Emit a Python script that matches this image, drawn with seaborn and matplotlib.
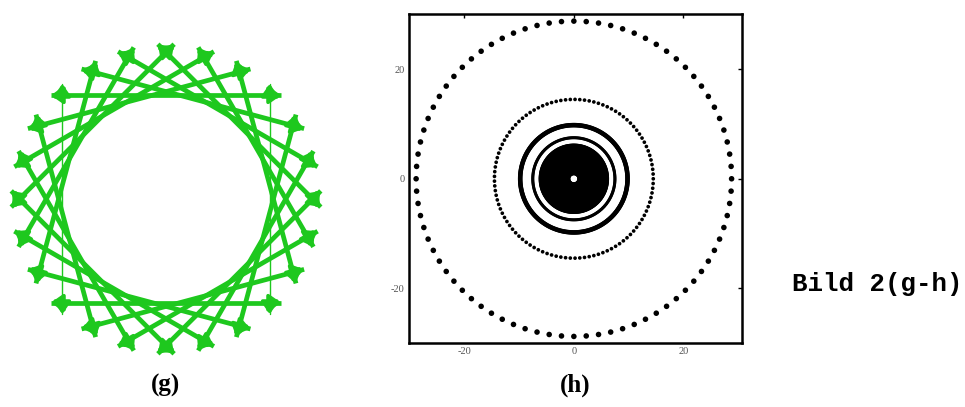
import numpy as np
import pandas as pd
import matplotlib
matplotlib.use("Agg")
import matplotlib.pyplot as plt
import seaborn as sns

sns.set_theme(style="white")
plt.rcParams["font.family"] = ["Liberation Serif", "DejaVu Serif"]

# ---- panel (g): star polygon of double-headed chords ----
chord_centers_deg = [0, 15, 30, 45, 60, 75, 90, 105, 120, 135, 150, 165,
                     180, 195, 210, 225, 240, 255, 270, 285, 300, 315, 330, 345]
chord_span_deg = 96.0
chord_radius = 155.0
thin_chords_deg = [0, 180]
green = "#1ec81e"

# ---- panel (h): concentric rings of points ----
ring_radii = [28.8, 14.5, 9.8, 7.5,
              6.1, 5.7, 5.3, 4.9, 4.5, 4.1, 3.7, 3.3, 2.9, 2.5, 2.1, 1.7, 1.3, 0.95]
ring_counts = [80, 105, 320, 260,
               260, 240, 90, 220, 200, 180, 170, 150, 130, 110, 100, 80, 60, 45]
ring_sizes = [16, 7, 11, 5,
              7, 7, 5, 7, 7, 7, 7, 7, 7, 7, 7, 7, 7, 6]
h_ticks = [-20, 0, 20]

W, H, DPI = 965, 407, 100
fig = plt.figure(figsize=(W / DPI, H / DPI), dpi=DPI)

# panel (g) axes with one data unit per pixel
gx0, gx1, gy0, gy1 = 0, 340, 20, 375
ax_g = fig.add_axes([gx0 / W, (H - gy1) / H, (gx1 - gx0) / W, (gy1 - gy0) / H])
cx, cy = 166, 199
ax_g.set_xlim(gx0 - cx, gx1 - cx)
ax_g.set_ylim(cy - gy1, cy - gy0)
ax_g.set_axis_off()

rows = []
for i, c in enumerate(chord_centers_deg):
    a0 = np.deg2rad(c - chord_span_deg / 2)
    a1 = np.deg2rad(c + chord_span_deg / 2)
    for a in (a0, a1):
        rows.append({"chord": i, "x": chord_radius * np.cos(a),
                     "y": chord_radius * np.sin(a), "thin": c in thin_chords_deg})
chords = pd.DataFrame(rows)

sns.lineplot(data=chords[~chords.thin], x="x", y="y", units="chord",
             estimator=None, sort=False, color=green, lw=3.4, ax=ax_g,
             solid_capstyle="butt")
sns.lineplot(data=chords[chords.thin], x="x", y="y", units="chord",
             estimator=None, sort=False, color=green, lw=1.0, ax=ax_g)

for i, grp in chords.groupby("chord"):
    p0 = grp.iloc[0][["x", "y"]].to_numpy(float)
    p1 = grp.iloc[1][["x", "y"]].to_numpy(float)
    d = (p1 - p0) / np.linalg.norm(p1 - p0)
    for tip, back in ((p0, p0 + d * 11), (p1, p1 - d * 11)):
        ax_g.annotate("", xy=tip, xytext=back,
                      arrowprops=dict(arrowstyle="-|>,head_length=0.6,head_width=0.42",
                                      color=green, lw=2.6, shrinkA=0, shrinkB=0))

# panel (h)
hx0, hx1, hy0, hy1 = 409, 742, 14, 343
ax_h = fig.add_axes([hx0 / W, (H - hy1) / H, (hx1 - hx0) / W, (hy1 - hy0) / H])
pts = []
for r, n, s in zip(ring_radii, ring_counts, ring_sizes):
    t = np.linspace(0, 2 * np.pi, n, endpoint=False)
    pts.append(pd.DataFrame({"x": r * np.cos(t), "y": r * np.sin(t), "s": s}))
pts = pd.concat(pts, ignore_index=True)
sns.scatterplot(data=pts, x="x", y="y", size="s", sizes=(min(ring_sizes), max(ring_sizes)),
                color="black", edgecolor="none", legend=False, ax=ax_h)
ax_h.set_xlim(-30.1, 30.7)
ax_h.set_ylim(-30.0, 30.1)
ax_h.set_xticks(h_ticks)
ax_h.set_yticks(h_ticks)
ax_h.set_xticklabels([str(v) for v in h_ticks])
ax_h.set_yticklabels([str(v) for v in h_ticks])
ax_h.set_xlabel("")
ax_h.set_ylabel("")
ax_h.tick_params(direction="in", length=3, width=1, colors="black",
                 labelcolor="#555555", labelsize=7.5, top=True, right=True,
                 pad=3)
for sp in ax_h.spines.values():
    sp.set_linewidth(1.8)
    sp.set_color("black")

# captions
fig.text(166 / W, 1 - 385 / H, "(g)", ha="center", va="center", color="black",
         fontsize=18, fontweight="bold", family=["Liberation Serif"])
fig.text(575 / W, 1 - 385 / H, "(h)", ha="center", va="center", color="black",
         fontsize=18, fontweight="bold", family=["Liberation Serif"])
fig.text(792 / W, 1 - 284 / H, "Bild 2(g-h)", ha="left", va="center", color="black",
         fontsize=18.5, fontweight="bold", family=["Liberation Mono"])

fig.savefig("out.png", dpi=DPI)
